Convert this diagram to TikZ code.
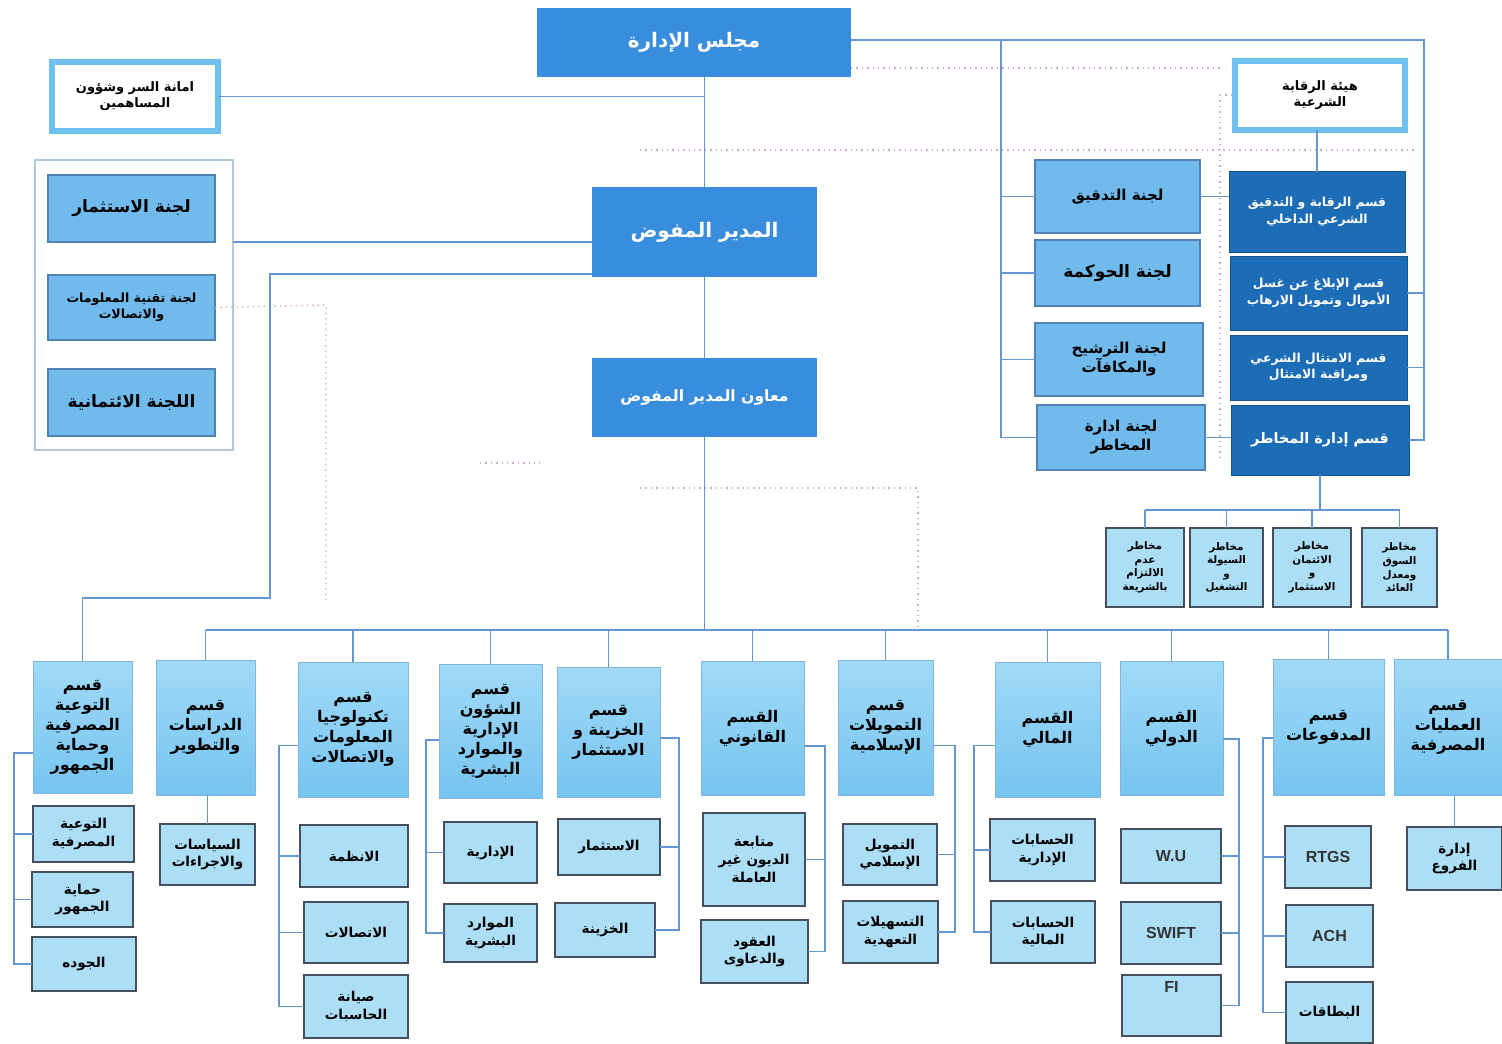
\documentclass[tikz,border=0pt]{standalone}
\usepackage{fontspec}
\setmainfont{Liberation Sans}
\newfontfamily\arabicfont[Script=Arabic]{DejaVu Sans}
\TeXXeTstate=1
\usetikzlibrary{calc}
\newcommand\rl[1]{\beginR#1\endR}
\newcommand\bx[7]{\node[#2, minimum width={(#5-(#3))*0.5pt}, minimum height={(#6-(#4))*0.5pt}] (#1) at ({(#3+#5)/2},{(#4+#6)/2}) {#7};}
\definecolor{mainblue}{RGB}{56,142,220}
\definecolor{darkblue}{RGB}{28,108,182}
\definecolor{commblue}{RGB}{112,186,236}
\definecolor{commdraw}{RGB}{80,130,180}
\definecolor{frameblue}{RGB}{110,192,238}
\definecolor{depttop}{RGB}{160,218,247}
\definecolor{deptbot}{RGB}{118,196,240}
\definecolor{deptdraw}{RGB}{130,180,220}
\definecolor{childblue}{RGB}{172,222,246}
\definecolor{childdraw}{RGB}{70,80,92}
\definecolor{linec}{RGB}{100,150,210}
\definecolor{dotc}{RGB}{215,175,170}
\definecolor{grpc}{RGB}{175,200,222}
\tikzset{
  base/.style={align=center, inner sep=1pt, outer sep=0pt, text=black},
  mainb/.style={base, fill=mainblue, text=white, font=\arabicfont\bfseries\fontsize{10}{12}\selectfont},
  wbox/.style={base, fill=white, draw=frameblue, line width=3pt, font=\arabicfont\bfseries\fontsize{6.5}{8}\selectfont},
  comm/.style={base, fill=commblue, draw=commdraw, line width=0.7pt, font=\arabicfont\bfseries\fontsize{8.5}{10.5}\selectfont},
  commsm/.style={comm, font=\arabicfont\bfseries\fontsize{6.3}{8}\selectfont},
  dark/.style={base, fill=darkblue, text=white, draw=darkblue!80!black, line width=0.5pt, font=\arabicfont\bfseries\fontsize{6.2}{8.2}\selectfont},
  dept/.style={base, top color=depttop, bottom color=deptbot, draw=deptdraw, line width=0.5pt, font=\arabicfont\bfseries\fontsize{8}{10}\selectfont},
  child/.style={base, fill=childblue, draw=childdraw, line width=1pt, font=\arabicfont\bfseries\fontsize{6.8}{8.8}\selectfont},
  latin/.style={child, font=\bfseries\fontsize{8}{9}\selectfont, text=black!80},
  risk/.style={child, font=\arabicfont\bfseries\fontsize{5.2}{6.8}\selectfont},
  grpframe/.style={draw=grpc, line width=0.8pt, inner sep=0pt, outer sep=0pt},
  conn/.style={draw=linec, line width=0.7pt},
  dots/.style={draw=dotc, line width=0.7pt, dotted}
}
\begin{document}
\begin{tikzpicture}[x=0.5pt,y=-0.5pt]
\useasboundingbox[fill=white] (0,0) rectangle (1502,1043);
% top level
\bx{board}{mainb}{537}{8}{851}{77}{\rl{مجلس الإدارة}}
\bx{amana}{wbox}{52}{62}{218}{131}{\rl{امانة السر وشؤون}\\\rl{المساهمين}}
\bx{hayaa}{wbox}{1235}{61}{1405}{130}{\rl{هيئة الرقابة}\\\rl{الشرعية}}
\bx{mudir}{mainb}{592}{187}{817}{277}{\rl{المدير المفوض}}
\bx{muawin}{mainb, font=\arabicfont\bfseries\fontsize{7.8}{9}\selectfont}{592}{358}{817}{437}{\rl{معاون المدير المفوض}}
% left committees
\bx{grp}{grpframe}{35}{160}{233}{450}{}
\bx{c1}{comm}{48}{175}{215}{242}{\rl{لجنة الاستثمار}}
\bx{c2}{commsm}{48}{275}{215}{340}{\rl{لجنة تقنية المعلومات}\\\rl{والاتصالات}}
\bx{c3}{comm}{48}{369}{215}{436}{\rl{اللجنة الائتمانية}}
% right committees
\bx{r1}{comm, font=\arabicfont\bfseries\fontsize{7.5}{9}\selectfont}{1035}{160}{1200}{233}{\rl{لجنة التدقيق}}
\bx{r2}{comm}{1035}{240}{1200}{306}{\rl{لجنة الحوكمة}}
\bx{r3}{comm, font=\arabicfont\bfseries\fontsize{7.5}{9.5}\selectfont}{1035}{323}{1203}{396}{\rl{لجنة الترشيح}\\\rl{والمكافآت}}
\bx{r4}{comm, font=\arabicfont\bfseries\fontsize{7.5}{9.5}\selectfont}{1037}{405}{1205}{470}{\rl{لجنة ادارة}\\\rl{المخاطر}}
% right dark sections
\bx{d1}{dark}{1229}{172}{1405}{252}{\rl{قسم الرقابة و التدقيق}\\\rl{الشرعي الداخلي}}
\bx{d2}{dark}{1230}{256}{1407}{330}{\rl{قسم الإبلاغ عن غسل}\\\rl{الأموال وتمويل الارهاب}}
\bx{d3}{dark}{1230}{335}{1407}{400}{\rl{قسم الامتثال الشرعي}\\\rl{ومراقبة الامتثال}}
\bx{d4}{dark, font=\arabicfont\bfseries\fontsize{7.2}{9}\selectfont}{1231}{405}{1409}{475}{\rl{قسم إدارة المخاطر}}
% risk boxes
\bx{k1}{risk}{1106}{528}{1184}{607}{\rl{مخاطر}\\\rl{عدم}\\\rl{الالتزام}\\\rl{بالشريعة}}
\bx{k2}{risk}{1190}{528}{1263}{607}{\rl{مخاطر}\\\rl{السيولة}\\\rl{و}\\\rl{التشغيل}}
\bx{k3}{risk}{1273}{528}{1351}{607}{\rl{مخاطر}\\\rl{الائتمان}\\\rl{و}\\\rl{الاستثمار}}
\bx{k4}{risk}{1362}{528}{1437}{607}{\rl{مخاطر}\\\rl{السوق}\\\rl{ومعدل}\\\rl{العائد}}
% departments
\bx{dep1}{dept}{33}{661}{132}{793}{\rl{قسم}\\\rl{التوعية}\\\rl{المصرفية}\\\rl{وحماية}\\\rl{الجمهور}}
\bx{dep2}{dept}{156}{660}{255}{795}{\rl{قسم}\\\rl{الدراسات}\\\rl{والتطوير}}
\bx{dep3}{dept}{298}{662}{408}{797}{\rl{قسم}\\\rl{تكنولوجيا}\\\rl{المعلومات}\\\rl{والاتصالات}}
\bx{dep4}{dept}{439}{664}{542}{798}{\rl{قسم}\\\rl{الشؤون}\\\rl{الإدارية}\\\rl{والموارد}\\\rl{البشرية}}
\bx{dep5}{dept}{557}{667}{660}{797}{\rl{قسم}\\\rl{الخزينة و}\\\rl{الاستثمار}}
\bx{dep6}{dept}{701}{661}{804}{795}{\rl{القسم}\\\rl{القانوني}}
\bx{dep7}{dept}{838}{660}{933}{795}{\rl{قسم}\\\rl{التمويلات}\\\rl{الإسلامية}}
\bx{dep8}{dept}{995}{662}{1100}{797}{\rl{القسم}\\\rl{المالي}}
\bx{dep9}{dept}{1120}{661}{1223}{795}{\rl{القسم}\\\rl{الدولي}}
\bx{dep10}{dept}{1273}{659}{1384}{795}{\rl{قسم}\\\rl{المدفوعات}}
\bx{dep11}{dept}{1394}{659}{1502}{795}{\rl{قسم}\\\rl{العمليات}\\\rl{المصرفية}}
% children
\bx{g1}{child}{33}{806}{134}{862}{\rl{التوعية}\\\rl{المصرفية}}
\bx{g2}{child}{32}{872}{133}{927}{\rl{حماية}\\\rl{الجمهور}}
\bx{g3}{child}{32}{937}{136}{991}{\rl{الجوده}}
\bx{h1}{child}{160}{824}{255}{885}{\rl{السياسات}\\\rl{والاجراءات}}
\bx{i1}{child}{300}{825}{408}{887}{\rl{الانظمة}}
\bx{i2}{child}{304}{902}{408}{963}{\rl{الاتصالات}}
\bx{i3}{child}{304}{975}{408}{1038}{\rl{صيانة}\\\rl{الحاسبات}}
\bx{j1}{child}{444}{822}{537}{883}{\rl{الإدارية}}
\bx{j2}{child}{444}{904}{537}{962}{\rl{الموارد}\\\rl{البشرية}}
\bx{l1}{child}{558}{819}{660}{875}{\rl{الاستثمار}}
\bx{l2}{child}{555}{903}{655}{957}{\rl{الخزينة}}
\bx{m1}{child}{703}{813}{805}{906}{\rl{متابعة}\\\rl{الديون غير}\\\rl{العاملة}}
\bx{m2}{child}{701}{920}{808}{983}{\rl{العقود}\\\rl{والدعاوى}}
\bx{n1}{child}{843}{824}{937}{885}{\rl{التمويل}\\\rl{الإسلامي}}
\bx{n2}{child}{843}{901}{938}{963}{\rl{التسهيلات}\\\rl{التعهدية}}
\bx{o1}{child}{990}{819}{1095}{881}{\rl{الحسابات}\\\rl{الإدارية}}
\bx{o2}{child}{991}{901}{1095}{963}{\rl{الحسابات}\\\rl{المالية}}
\bx{p1}{latin}{1121}{829}{1221}{883}{W.U}
\bx{p2}{latin}{1121}{902}{1221}{964}{SWIFT}
\bx{p3}{latin}{1122}{975}{1221}{1036}{FI\\[10pt]}
\bx{q1}{latin}{1285}{826}{1371}{888}{RTGS}
\bx{q2}{latin}{1286}{905}{1373}{967}{ACH}
\bx{q3}{child}{1286}{982}{1373}{1043}{\rl{البطاقات}}
\bx{s1}{child}{1407}{827}{1502}{890}{\rl{إدارة}\\\rl{الفروع}}
% coordinates
\coordinate (rr) at (1424,40);
\coordinate (lv) at (1001,40);
\coordinate (kbus) at (0,510);
\coordinate (bus) at (0,630);
\coordinate (cA) at (270,598);
\coordinate (v1) at (14,0);
\coordinate (v3) at (279,0);
\coordinate (v4) at (426,0);
\coordinate (v5) at (679,0);
\coordinate (v6) at (825,0);
\coordinate (v7) at (955,0);
\coordinate (v8) at (974,0);
\coordinate (v9) at (1239,0);
\coordinate (v10) at (1263,0);
% dotted lines
\draw[dots] (board.east |- 0,68) -- (1220,68);
\draw[dots] (1220,95) -- (hayaa.west |- 0,95);
\draw[dots] (1220,95) -- (1220,460);
\draw[dots] (640,150) -- (1415,150);
\draw[dots] (c2.east) -- (326,305) -- (326,600);
\draw[dots] (640,488) -- (918,488) -- (918,628);
\draw[dots] (480,463) -- (540,463);
% top connectors
\draw[conn] (mudir.north |- board.south) -- (mudir.north);
\draw[conn] (amana.east) -- (amana.east -| mudir.north);
\draw[conn] (board.east |- rr) -- (rr) -- (rr |- d4.east) -- (d4.east);
\draw[conn] (rr |- d2.east) -- (d2.east);
\draw[conn] (rr |- d3.east) -- (d3.east);
\draw[conn] (lv) -- (lv |- r4.west) -- (r4.west);
\draw[conn] (lv |- r1.west) -- (r1.west);
\draw[conn] (lv |- r2.west) -- (r2.west);
\draw[conn] (lv |- r3.west) -- (r3.west);
\draw[conn] (hayaa.south -| d1.north) -- (d1.north);
\draw[conn] (r1.east) -- (r1.east -| d1.west);
\draw[conn] (r4.east) -- (r4.east -| d4.west);
\draw[conn] (d4.south) -- (d4.south |- kbus);
\draw[conn] (k1.north |- kbus) -- (k4.north |- kbus);
\foreach \k in {k1,k2,k3,k4} \draw[conn] (\k.north |- kbus) -- (\k.north);
\draw[conn] ([yshift=31.5pt]grp.east) -- ([yshift=31.5pt]grp.east -| mudir.west);
\draw[conn] ([yshift=-21pt]mudir.west) -| (cA) -| (dep1.north);
\draw[conn] (mudir.south) -- (muawin.north);
\draw[conn] (muawin.south) -- (muawin.south |- bus);
\draw[conn] (dep2.north |- bus) -- (dep11.north |- bus);
\foreach \d in {dep2,dep3,dep4,dep5,dep6,dep7,dep8,dep9,dep10,dep11} \draw[conn] (\d.north |- bus) -- (\d.north);
% children connectors
\draw[conn] ($(dep1.west)+(0,26)$) -| (v1 |- g3.west) -- (g3.west);
\foreach \c in {g1,g2} \draw[conn] (\c.west) -- (\c.west -| v1);
\draw[conn] (h1.north |- dep2.south) -- (h1.north);
\draw[conn] ($(dep3.west)+(0,16)$) -| (v3 |- i3.west) -- (i3.west);
\foreach \c in {i1,i2} \draw[conn] (\c.west) -- (\c.west -| v3);
\draw[conn] ($(dep4.west)+(0,9)$) -| (v4 |- j2.west) -- (j2.west);
\draw[conn] (j1.west) -- (j1.west -| v4);
\draw[conn] ($(dep5.east)+(0,6)$) -| (v5 |- l2.east) -- (l2.east);
\draw[conn] (l1.east) -- (l1.east -| v5);
\draw[conn] ($(dep6.east)+(0,18)$) -| (v6 |- m2.east) -- (m2.east);
\draw[conn] (m1.east) -- (m1.east -| v6);
\draw[conn] ($(dep7.east)+(0,18)$) -| (v7 |- n2.east) -- (n2.east);
\draw[conn] (n1.east) -- (n1.east -| v7);
\draw[conn] ($(dep8.west)+(0,16)$) -| (v8 |- o2.west) -- (o2.west);
\draw[conn] (o1.west) -- (o1.west -| v8);
\draw[conn] ($(dep9.east)+(0,11)$) -| (v9 |- p3.east) -- (p3.east);
\foreach \c in {p1,p2} \draw[conn] (\c.east) -- (\c.east -| v9);
\draw[conn] ($(dep10.west)+(0,11)$) -| (v10 |- q3.west) -- (q3.west);
\foreach \c in {q1,q2} \draw[conn] (\c.west) -- (\c.west -| v10);
\draw[conn] (s1.north |- dep11.south) -- (s1.north);
\end{tikzpicture}
\end{document}
